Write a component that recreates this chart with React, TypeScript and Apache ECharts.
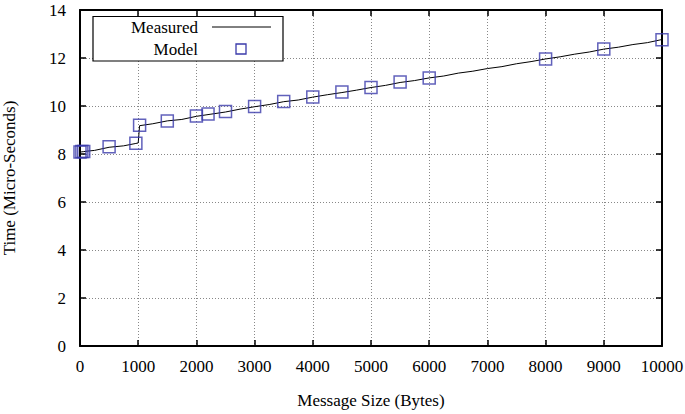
import React, { useEffect, useRef } from "react";
import * as echarts from "echarts";

const measuredX = [0, 32, 64, 128, 250, 500, 750, 960, 1000, 1024, 1250, 1500, 1750, 2000, 2250, 2500, 2750, 3000, 3250, 3500, 3750, 4000, 4250, 4500, 4750, 5000, 5250, 5500, 5750, 6000, 6250, 6500, 6750, 7000, 7250, 7500, 7750, 8000, 8250, 8500, 8750, 9000, 9250, 9500, 9750, 10000];
const measuredY = [8.08, 8.09, 8.1, 8.12, 8.15, 8.28, 8.34, 8.44, 8.46, 9.18, 9.26, 9.38, 9.44, 9.57, 9.66, 9.75, 9.87, 9.97, 10.06, 10.18, 10.25, 10.37, 10.47, 10.56, 10.66, 10.77, 10.86, 10.98, 11.06, 11.17, 11.25, 11.37, 11.45, 11.56, 11.64, 11.76, 11.85, 11.96, 12.05, 12.16, 12.25, 12.37, 12.45, 12.56, 12.64, 12.77];

const modelX = [0, 32, 64, 500, 960, 1024, 1500, 2000, 2200, 2500, 3000, 3500, 4000, 4500, 5000, 5500, 6000, 8000, 9000, 10000];
const modelY = [8.08, 8.1, 8.1, 8.3, 8.45, 9.2, 9.38, 9.58, 9.67, 9.77, 9.98, 10.19, 10.38, 10.58, 10.77, 11.0, 11.17, 11.96, 12.38, 12.76];

const xTicks = [0, 10000, 1000];
const yTicks = [0, 14, 2];

const FONT = "'Liberation Serif', 'Times New Roman', Times, serif";
const FS = 17;

export default function App() {
  const ref = useRef<HTMLDivElement>(null);
  useEffect(() => {
    if (!ref.current) return;
    const chart = echarts.init(ref.current, undefined, { renderer: "svg" });
    const axisCommon = {
      axisLine: { show: true, onZero: false, lineStyle: { color: "#000", width: 2 } },
      axisTick: { show: true, inside: true, length: 6, lineStyle: { color: "#000", width: 1.5 } },
    };
    chart.setOption({
      animation: false,
      backgroundColor: "#fff",
      grid: { left: 80, right: 23, top: 10, bottom: 68, show: false, containLabel: false, outerBoundsMode: "none" },
      xAxis: [
        {
          type: "value",
          min: xTicks[0],
          max: xTicks[1],
          interval: xTicks[2],
          position: "bottom",
          ...axisCommon,
          axisLabel: { color: "#000", fontFamily: FONT, fontSize: FS, margin: 12, formatter: (v: number) => String(v) },
          splitLine: { show: true, lineStyle: { color: "#888", type: [1, 2], width: 1 } },
          name: "Message Size (Bytes)",
          nameLocation: "middle",
          nameGap: 46,
          nameTextStyle: { color: "#000", fontFamily: FONT, fontSize: FS },
        },
        {
          type: "value",
          min: xTicks[0],
          max: xTicks[1],
          interval: xTicks[2],
          position: "top",
          ...axisCommon,
          axisLabel: { show: false },
          splitLine: { show: false },
        },
      ],
      yAxis: [
        {
          type: "value",
          min: yTicks[0],
          max: yTicks[1],
          interval: yTicks[2],
          position: "left",
          ...axisCommon,
          axisLabel: { color: "#000", fontFamily: FONT, fontSize: FS, margin: 14 },
          splitLine: { show: true, lineStyle: { color: "#888", type: [1, 2], width: 1 } },
          name: "Time (Micro-Seconds)",
          nameLocation: "middle",
          nameGap: 62,
          nameTextStyle: { color: "#000", fontFamily: FONT, fontSize: FS },
        },
        {
          type: "value",
          min: yTicks[0],
          max: yTicks[1],
          interval: yTicks[2],
          position: "right",
          ...axisCommon,
          axisLabel: { show: false },
          splitLine: { show: false },
        },
      ],
      series: [
        {
          name: "Measured",
          type: "line",
          data: measuredX.map((x, i) => [x, measuredY[i]]),
          showSymbol: false,
          symbol: "none",
          lineStyle: { color: "#000", width: 1 },
          z: 3,
        },
        {
          name: "Model",
          type: "scatter",
          data: modelX.map((x, i) => [x, modelY[i]]),
          symbol: "rect",
          symbolSize: 12,
          itemStyle: { color: "rgba(0,0,0,0)", borderColor: "#3a3aaa", borderWidth: 1.5 },
          z: 4,
        },
      ],
      graphic: [
        {
          type: "rect",
          shape: { x: 93, y: 16.5, width: 190, height: 44.5 },
          style: { fill: "#fff", stroke: "#000", lineWidth: 1.2 },
          z: 10,
        },
        {
          type: "text",
          x: 198,
          y: 27,
          style: { text: "Measured", fill: "#000", font: `${FS}px ${FONT}`, align: "right", verticalAlign: "middle" },
          z: 11,
        },
        {
          type: "line",
          shape: { x1: 212, y1: 27, x2: 271, y2: 27 },
          style: { stroke: "#000", lineWidth: 1 },
          z: 11,
        },
        {
          type: "text",
          x: 198,
          y: 49,
          style: { text: "Model", fill: "#000", font: `${FS}px ${FONT}`, align: "right", verticalAlign: "middle" },
          z: 11,
        },
        {
          type: "rect",
          shape: { x: 236, y: 44, width: 10, height: 10 },
          style: { fill: "none", stroke: "#3a3aaa", lineWidth: 1.3 },
          z: 11,
        },
      ],
    });
    return () => chart.dispose();
  }, []);
  return <div ref={ref} style={{ width: 685, height: 414, position: "absolute", left: 0, top: 0 }} />;
}
